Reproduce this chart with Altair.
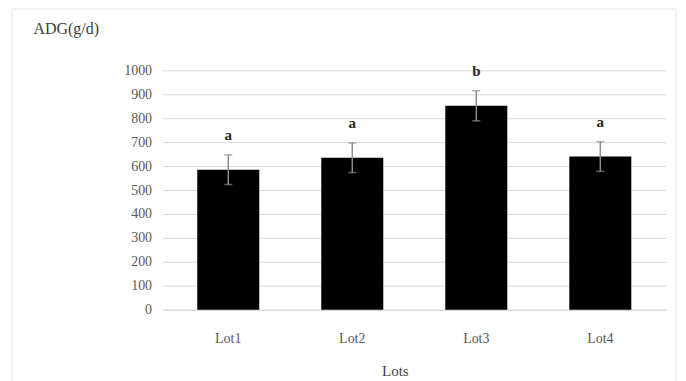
import altair as alt
import pandas as pd

lots = ["Lot1", "Lot2", "Lot3", "Lot4"]
adg = [585, 635, 852, 640]
err = [62, 62, 63, 62]
letters = ["a", "a", "b", "a"]
yticks = [0, 100, 200, 300, 400, 500, 600, 700, 800, 900, 1000]

df = pd.DataFrame({
    "Lot": lots,
    "ADG": adg,
    "lo": [v - e for v, e in zip(adg, err)],
    "hi": [v + e for v, e in zip(adg, err)],
    "letter": letters,
})

font = "Liberation Serif"

xaxis = alt.Axis(labelAngle=0, labelFont=font, labelFontSize=14, labelColor="#595959",
                 labelPadding=22, ticks=False, grid=False, domainColor="#d9d9d9",
                 titleFont=font, titleFontSize=15, titleColor="#404040",
                 titleFontWeight="normal", titleX=233, titleY=61,
                 titleAlign="center", titleBaseline="middle")
xscale = alt.Scale(paddingInner=0.5, paddingOuter=0.28)
yaxis = alt.Axis(values=yticks, format="d", labelOverlap=False,
                 labelFont=font, labelFontSize=14,
                 labelColor="#595959", labelPadding=11, ticks=False, domain=False,
                 gridColor="#d9d9d9", titleAngle=0, titleX=-130, titleY=-42,
                 titleAlign="left", titleBaseline="middle", titleFont=font,
                 titleFontSize=16, titleColor="#404040", titleFontWeight="normal")
yscale = alt.Scale(domain=[0, 1000], nice=False)


def X():
    return alt.X("Lot:N", sort=lots, title="Lots", scale=xscale, axis=xaxis)


def Y(field):
    return alt.Y(field, title="ADG(g/d)", scale=yscale, axis=yaxis)


base = alt.Chart(df)

frame = alt.Chart(pd.DataFrame({"k": [0]})).mark_rect(
    fill=None, stroke="#e3e3e3", strokeWidth=1).encode(
    x=alt.value(-151), x2=alt.value(515), y=alt.value(-61.5), y2=alt.value(330))

bars = base.mark_bar(color="black").encode(x=X(), y=Y("ADG:Q"))
rules = base.mark_rule(color="#8c8c8c", strokeWidth=1.5).encode(
    x=X(), y=Y("lo:Q"), y2="hi:Q")
caps_top = base.mark_tick(color="#8c8c8c", size=8, thickness=1.5, orient="horizontal").encode(
    x=X(), y=Y("hi:Q"))
caps_bot = base.mark_tick(color="#8c8c8c", size=8, thickness=1.5, orient="horizontal").encode(
    x=X(), y=Y("lo:Q"))
labels = base.mark_text(font=font, fontSize=15, fontWeight="bold", color="#262626",
                        dy=-12, baseline="bottom").encode(
    x=X(), y=Y("hi:Q"), text="letter:N")

chart = alt.layer(bars, rules, caps_top, caps_bot, labels, frame).properties(
    width=505, height=240,
    autosize=alt.AutoSizeParams(type="none"),
    padding={"left": 155, "top": 62, "right": 12, "bottom": 72},
).configure(background="white").configure_view(strokeWidth=0, stroke=None)

chart.save("out.html", embed_options={"renderer": "svg", "actions": False})
